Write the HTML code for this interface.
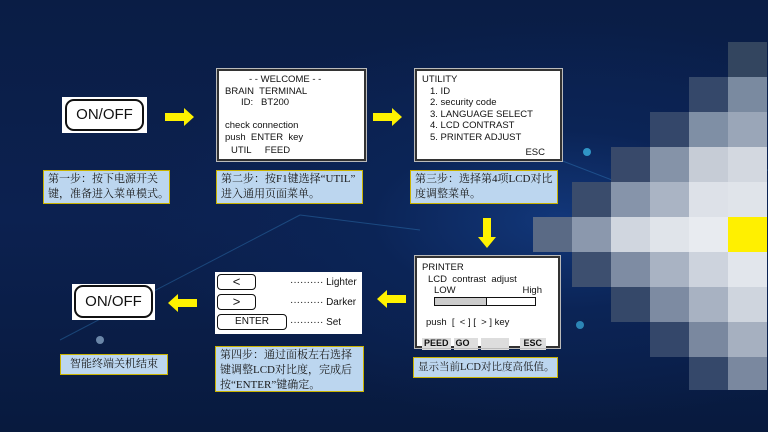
<!DOCTYPE html>
<html><head><meta charset="utf-8"><style>
*{margin:0;padding:0;box-sizing:border-box}
body{width:768px;height:432px;overflow:hidden;position:relative;font-family:"Liberation Sans",sans-serif;
background:radial-gradient(ellipse 420px 200px at 560px 220px,#12377a 0%,#0b2456 45%,transparent 100%),linear-gradient(180deg,#0a1d45 0%,#0c2150 50%,#081a3e 100%);}
.a{position:absolute}
.lcd{position:absolute;background:#fff;border:2px solid #333;outline:1px solid #bbb;font-size:9.5px;color:#111;line-height:11.5px}
.cap{position:absolute;background:#bcd6ef;border:1px solid #c9b200;font-family:"Liberation Serif","Noto Serif CJK SC",serif;font-size:11px;color:#1a1a1a;line-height:15px;padding:1px 4px;white-space:nowrap}
.btn{position:absolute;background:#fff;border:2px solid #111;border-radius:7px;font-size:15px;text-align:center;color:#111}
.sq{position:absolute;width:39px;height:35px}
.k{position:absolute;border:1.5px solid #111;border-radius:4px;text-align:center;font-size:10px;line-height:13px}
</style></head><body>
<svg class="a" style="left:0;top:0" width="768" height="432">
<g stroke="#3a8fd0" stroke-width="1" opacity="0.35" fill="none">
<line x1="60" y1="340" x2="300" y2="215"/><line x1="300" y1="215" x2="420" y2="230"/>
<line x1="560" y1="160" x2="651" y2="195"/><line x1="651" y1="195" x2="768" y2="170"/>
<line x1="651" y1="195" x2="700" y2="220"/><line x1="540" y1="240" x2="651" y2="195"/>
</g>
<circle cx="100" cy="340" r="4" fill="#6a86a8"/>
<circle cx="587" cy="152" r="4" fill="#3ab0e0" opacity="0.8"/>
<circle cx="580" cy="325" r="4" fill="#3ab0e0" opacity="0.7"/>
<circle cx="692" cy="140" r="5" fill="#5ac0e8" opacity="0.6"/>
</svg>
<!-- mosaic -->
<div class="sq" style="left:728px;top:42px;background:#33455f"></div>
<div class="sq" style="left:689px;top:77px;background:#35486a"></div><div class="sq" style="left:728px;top:77px;background:#7a8aa0"></div>
<div class="sq" style="left:650px;top:112px;background:#34476a"></div><div class="sq" style="left:689px;top:112px;background:#7f8fa5"></div><div class="sq" style="left:728px;top:112px;background:#9aa6b8"></div>
<div class="sq" style="left:611px;top:147px;background:#38496a"></div><div class="sq" style="left:650px;top:147px;background:#8593a8"></div><div class="sq" style="left:689px;top:147px;background:#c6ccd6"></div><div class="sq" style="left:728px;top:147px;background:#d3d8e0"></div>
<div class="sq" style="left:572px;top:182px;background:#3a4c6c"></div><div class="sq" style="left:611px;top:182px;background:#8694aa"></div><div class="sq" style="left:650px;top:182px;background:#aab4c4"></div><div class="sq" style="left:689px;top:182px;background:#dde1e8"></div><div class="sq" style="left:728px;top:182px;background:#e0e4ea"></div>
<div class="sq" style="left:533px;top:217px;background:#5a6a85"></div><div class="sq" style="left:572px;top:217px;background:#8b98ad"></div><div class="sq" style="left:611px;top:217px;background:#d0d6df"></div><div class="sq" style="left:650px;top:217px;background:#e0e4ea"></div><div class="sq" style="left:689px;top:217px;background:#e8ebf0"></div><div class="sq" style="left:728px;top:217px;background:#fff000"></div>
<div class="sq" style="left:572px;top:252px;background:#3d4f6f"></div><div class="sq" style="left:611px;top:252px;background:#7e8ca3"></div><div class="sq" style="left:650px;top:252px;background:#a9b3c3"></div><div class="sq" style="left:689px;top:252px;background:#cdd3dd"></div><div class="sq" style="left:728px;top:252px;background:#e2e6ec"></div>
<div class="sq" style="left:611px;top:287px;background:#354869"></div><div class="sq" style="left:650px;top:287px;background:#7d8ba2"></div><div class="sq" style="left:689px;top:287px;background:#a8b2c2"></div><div class="sq" style="left:728px;top:287px;background:#cfd5de"></div>
<div class="sq" style="left:650px;top:322px;background:#34476a"></div><div class="sq" style="left:689px;top:322px;background:#7a889f"></div><div class="sq" style="left:728px;top:322px;background:#a6b0c0"></div>
<div class="sq" style="left:689px;top:357px;background:#35486a;height:33px"></div><div class="sq" style="left:728px;top:357px;background:#7a889f;height:33px"></div>

<!-- ON/OFF 1 -->
<div class="a" style="left:62px;top:97px;width:85px;height:36px;background:#fff"></div>
<div class="btn" style="left:65px;top:99px;width:79px;height:32px;line-height:28px;border-radius:9px">ON/OFF</div>
<svg class="a" style="left:0;top:0" width="768" height="432">
<g fill="#fff200">
<polygon points="165,113 184,113 184,108 194,117 184,126 184,121 165,121"/>
<polygon points="373,113 392,113 392,108 402,117 392,126 392,121 373,121"/>
<polygon points="483,218 491,218 491,237 496,237 487,248 478,237 483,237"/>
<polygon points="406,295 387,295 387,290 377,299 387,308 387,303 406,303"/>
<polygon points="197,299 178,299 178,294 168,303 178,312 178,307 197,307"/>
</g></svg>
<!-- welcome -->
<div class="lcd" style="left:217px;top:69px;width:149px;height:92px;padding:3px 6px">
<div style="padding-left:24px">- - WELCOME - -</div><div>BRAIN&nbsp; TERMINAL</div><div style="padding-left:16px">ID:&nbsp;&nbsp; BT200</div><div>&nbsp;</div><div>check connection</div><div>push&nbsp; ENTER&nbsp; key</div><div style="padding-left:6px;margin-top:2px">UTIL&nbsp;&nbsp;&nbsp;&nbsp; FEED</div></div>
<!-- utility -->
<div class="lcd" style="left:415px;top:69px;width:147px;height:92px;padding:3px 5px">
<div>UTILITY</div><div style="padding-left:8px">1. ID</div><div style="padding-left:8px">2. security code</div><div style="padding-left:8px">3. LANGUAGE SELECT</div><div style="padding-left:8px">4. LCD CONTRAST</div><div style="padding-left:8px">5. PRINTER ADJUST</div><div style="text-align:right;padding-right:10px;margin-top:4px">ESC</div></div>
<!-- captions -->
<div class="cap" style="left:43px;top:170px;width:127px;height:34px">第一步：按下电源开关<br>键，准备进入菜单模式。</div>
<div class="cap" style="left:216px;top:170px;width:147px;height:34px">第二步：按F1键选择“UTIL”<br>进入通用页面菜单。</div>
<div class="cap" style="left:410px;top:170px;width:148px;height:34px">第三步：选择第4项LCD对比<br>度调整菜单。</div>
<!-- printer -->
<div class="lcd" style="left:415px;top:256px;width:145px;height:92px;padding:4px 5px">
<div>PRINTER</div><div style="padding-left:6px">LCD&nbsp; contrast&nbsp; adjust</div>
<div style="padding-left:12px;width:120px">LOW<span style="float:right">High</span></div>
<div style="margin-left:12px;width:102px;height:9px;border:1.5px solid #111;display:flex"><div style="width:52px;background:#ccc;border-right:1.5px solid #111"></div></div>
<div style="margin-top:11px;padding-left:4px">push&nbsp; [&nbsp; &lt; ] [&nbsp; &gt; ] key</div>
<div style="margin-top:10px;display:flex;gap:3px;font-weight:bold;font-size:9px"><span style="background:#ddd;padding:0 2px">PEED</span><span style="background:#ddd;padding:0 8px 0 2px">GO</span><span style="background:#ddd;width:28px"></span><span style="background:#ddd;padding:0 4px;margin-left:8px">ESC</span></div></div>
<div class="cap" style="left:413px;top:357px;width:145px;height:21px;padding-top:2px;font-size:10.5px">显示当前LCD对比度高低值。</div>
<!-- buttons panel -->
<div class="a" style="left:215px;top:272px;width:147px;height:62px;background:#fff;font-size:10px;color:#111">
<div class="k" style="left:2px;top:2px;width:39px;height:16px;font-size:13px">&lt;</div>
<div class="k" style="left:2px;top:22px;width:39px;height:16px;font-size:13px">&gt;</div>
<div class="k" style="left:2px;top:42px;width:70px;height:16px;line-height:13px">ENTER</div>
<div class="a" style="left:75px;top:5px">·········· Lighter</div>
<div class="a" style="left:75px;top:25px">·········· Darker</div>
<div class="a" style="left:75px;top:45px">·········· Set</div>
</div>
<div class="cap" style="left:215px;top:346px;width:149px;height:46px">第四步：通过面板左右选择<br>键调整LCD对比度，完成后<br>按“ENTER”键确定。</div>
<!-- ON/OFF 2 -->
<div class="a" style="left:72px;top:284px;width:83px;height:36px;background:#fff"></div>
<div class="btn" style="left:74px;top:285px;width:79px;height:33px;line-height:29px;border-radius:9px">ON/OFF</div>
<div class="cap" style="left:60px;top:354px;width:108px;height:21px;padding-top:2px;text-align:center">智能终端关机结束</div>
</body></html>
